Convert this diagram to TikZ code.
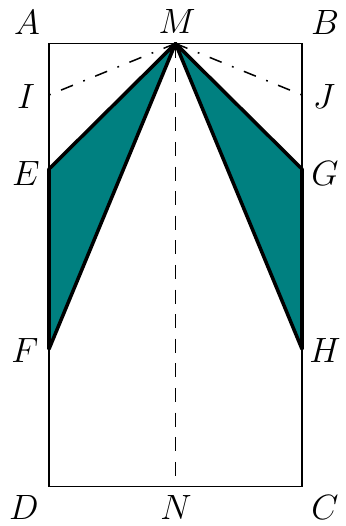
\RequirePackage{fix-cm}
\documentclass[tikz,border=0pt]{standalone}
\usepackage{tikz}
\usetikzlibrary{positioning}
\definecolor{foldTeal}{RGB}{0,128,128}

\begin{document}
\begin{tikzpicture}[x=0.03cm,y=-0.03cm,font=\fontsize{30}{36}\selectfont,
  pt/.style={inner sep=0pt},
  thinline/.style={line width=1.4pt},
  thickline/.style={line width=3pt,line join=round},
  midline/.style={line width=1.4pt,dash pattern=on 12pt off 9pt},
  foldline/.style={line width=1.3pt,dash pattern=on 11pt off 9.5pt on 1.5pt off 9.5pt}]
 \useasboundingbox (0,0) rectangle (346,526);
 % corners and points
 \coordinate (A) at (49,43.5);
 \coordinate (B) at (302,43.5);
 \coordinate (C) at (302,486.5);
 \coordinate (D) at (49,486.5);
 \coordinate (M) at (175.5,43.5);
 \coordinate (N) at (175.5,486.5);
 \coordinate (I) at (49,95);
 \coordinate (J) at (302,95);
 \coordinate (E) at (49,169);
 \coordinate (G) at (302,169);
 \coordinate (F) at (49,349);
 \coordinate (H) at (302,349);
 % folded parts
 \fill[foldTeal] (M) -- (E) -- (F) -- cycle;
 \fill[foldTeal] (M) -- (G) -- (H) -- cycle;
 \draw[thinline] (A) rectangle (C);
 \draw[midline] (M) -- (N);
 \draw[foldline] (M) -- (I);
 \draw[foldline] (M) -- (J);
 \draw[thickline] (M) -- (E) -- (F) -- cycle;
 \draw[thickline] (M) -- (G) -- (H) -- cycle;
 % labels
 \node[pt] (lA) at (27,22) {$A$};
 \node[pt] (lM) at (177,21) {$M$};
 \node[pt] (lB) at (325,22) {$B$};
 \node[pt] (lI) at (26,96) {$I$};
 \node[pt] (lJ) at (324,96) {$J$};
 \node[pt] (lE) at (26,173) {$E$};
 \node[pt] (lG) at (325,173) {$G$};
 \node[pt] (lF) at (25,350) {$F$};
 \node[pt] (lH) at (325,350) {$H$};
 \node[pt] (lD) at (24,507) {$D$};
 \node[pt] (lN) at (176,507) {$N$};
 \node[pt] (lC) at (325,507) {$C$};
\end{tikzpicture}
\end{document}
